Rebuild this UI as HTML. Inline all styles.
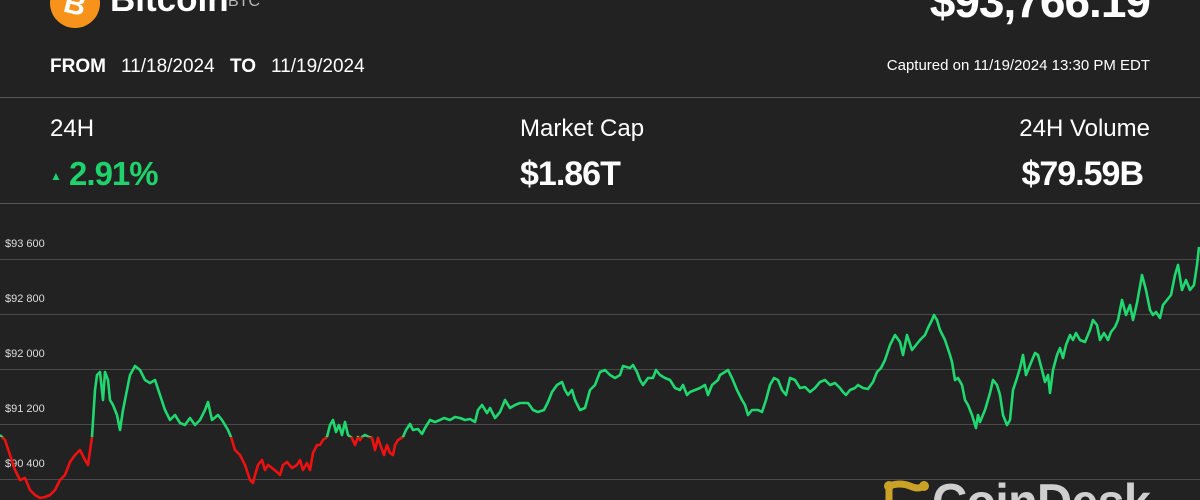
<!DOCTYPE html>
<html><head><meta charset="utf-8"><style>
html,body{margin:0;padding:0;background:#222222;}
body{width:1200px;height:500px;position:relative;overflow:hidden;font-family:"Liberation Sans",sans-serif;color:#fff;}
.t{position:absolute;white-space:nowrap;line-height:1;}
.hl{position:absolute;left:0;width:1200px;height:1px;background:#555;}
</style></head><body>
<div style="position:absolute;left:50px;top:-22px;width:50px;height:50px;border-radius:50%;background:#f7931a;"></div>
<div class="t" style="left:64px;top:-10px;font-size:30px;font-weight:bold;color:#fff;transform:rotate(14deg);">B</div>
<div class="t" style="left:110px;top:-18px;font-size:35px;font-weight:bold;">Bitcoin</div>
<div class="t" style="left:228px;top:-6px;font-size:16px;color:#bbb;">BTC</div>
<div class="t" style="right:50px;top:-22px;font-size:46px;font-weight:bold;letter-spacing:-1px;">$93,766.19</div>
<div class="t" style="left:50px;top:57px;font-size:19px;font-weight:bold;">FROM</div>
<div class="t" style="left:121px;top:57px;font-size:19px;">11/18/2024</div>
<div class="t" style="left:230px;top:57px;font-size:19px;font-weight:bold;">TO</div>
<div class="t" style="left:271px;top:57px;font-size:19px;">11/19/2024</div>
<div class="t" style="right:50px;top:58px;font-size:15px;">Captured on 11/19/2024 13:30 PM EDT</div>
<div class="hl" style="top:97px;"></div>
<div class="t" style="left:50px;top:117px;font-size:24px;">24H</div>
<div class="t" style="left:50px;top:157px;font-size:33px;font-weight:bold;color:#20d26c;letter-spacing:-1px;"><span style="font-size:12px;vertical-align:5px;">&#9650;</span> 2.91%</div>
<div class="t" style="left:520px;top:117px;font-size:24px;">Market Cap</div>
<div class="t" style="left:520px;top:157px;font-size:34px;font-weight:bold;letter-spacing:-1px;">$1.86T</div>
<div class="t" style="right:50px;top:117px;font-size:24px;">24H Volume</div>
<div class="t" style="right:57px;top:157px;font-size:34px;font-weight:bold;letter-spacing:-1px;">$79.59B</div>
<div class="hl" style="top:203px;"></div>
<svg width="1200" height="500" style="position:absolute;left:0;top:0;overflow:hidden;">
<g stroke="#4a4a4a" stroke-width="1">
<line x1="0" y1="259.5" x2="1200" y2="259.5"/><line x1="0" y1="314.5" x2="1200" y2="314.5"/><line x1="0" y1="369.5" x2="1200" y2="369.5"/><line x1="0" y1="424.5" x2="1200" y2="424.5"/><line x1="0" y1="479.5" x2="1200" y2="479.5"/>
</g>
<g font-family="Liberation Sans, sans-serif" font-size="11" fill="#ddd">
<text x="5" y="247">$93 600</text><text x="5" y="302">$92 800</text><text x="5" y="357">$92 000</text><text x="5" y="412">$91 200</text><text x="5" y="467">$90 400</text>
</g>
<defs><clipPath id="up"><rect x="0" y="0" width="1200" height="437"/></clipPath><clipPath id="dn"><rect x="0" y="437" width="1200" height="100"/></clipPath>
<polyline id="p" fill="none" points="0,435 5,440 10,455 15,470 20,480 25,478 30,490 35,495 40,498 45,497 50,495 55,490 60,480 65,475 70,462 75,455 80,450 85,460 88,465 92,437 95,390 97,375 100,372 103,400 105,372 108,380 110,400 113,405 117,415 120,430 123,410 127,390 130,375 135,366 140,370 145,380 150,383 155,380 160,395 165,410 170,420 175,415 180,423 185,425 190,418 195,425 200,420 205,410 208,402 212,420 218,415 222,420 228,430 231,437 235,450 240,455 245,465 250,480 253,483 255,475 258,465 262,460 265,470 268,465 272,468 277,472 280,475 283,465 287,462 292,468 297,465 300,460 303,470 307,463 310,470 313,453 317,445 320,445 323,440 327,437 330,425 333,420 336,432 339,425 342,435 345,422 348,435 352,438 355,445 358,437 360,440 362,437 365,435 369,437 372,438 375,450 378,438 381,447 384,455 387,445 390,453 393,455 395,445 398,440 403,437 406,430 410,424 413,430 418,429 422,434 425,428 430,420 435,422 440,420 444,418 450,420 455,417 460,418 465,420 470,419 475,422 478,410 482,405 487,413 490,408 495,418 500,412 505,400 510,408 515,405 520,403 528,403 533,410 538,412 544,410 548,402 552,392 557,385 562,382 565,390 568,395 572,390 575,400 580,410 585,408 590,390 595,385 600,372 605,370 610,375 615,378 620,375 623,366 630,368 633,365 637,372 640,380 643,385 648,378 653,378 656,370 660,375 665,378 670,380 675,388 680,390 683,385 687,395 690,392 695,390 700,388 705,385 708,395 712,385 718,380 720,375 725,372 728,370 732,378 737,390 742,400 745,405 748,415 752,410 758,410 762,412 766,400 770,385 774,378 778,380 782,390 786,395 790,378 795,380 800,388 805,387 810,392 815,388 820,382 825,380 830,385 835,383 840,388 843,392 846,395 850,390 855,388 858,385 863,388 868,389 873,382 877,372 881,368 885,360 890,345 895,335 900,342 903,355 907,335 912,350 916,345 920,340 925,335 928,328 932,320 934,315 937,320 940,330 945,340 950,355 952,362 955,380 958,378 962,385 965,400 968,405 972,415 976,428 978,415 980,422 985,410 990,393 993,380 997,385 1000,395 1003,415 1007,425 1010,420 1013,390 1017,378 1020,368 1023,355 1026,375 1030,365 1035,353 1038,355 1042,370 1045,382 1048,375 1050,393 1053,370 1057,355 1060,348 1063,358 1066,345 1070,335 1073,340 1076,333 1080,340 1085,342 1090,330 1093,320 1097,325 1100,340 1104,333 1108,340 1111,332 1115,327 1118,320 1122,300 1126,315 1130,305 1133,320 1137,303 1142,275 1146,290 1150,310 1153,315 1156,312 1160,318 1163,305 1167,300 1171,295 1175,275 1178,265 1182,290 1186,280 1190,290 1194,285 1197,265 1199,247"/>
</defs>
<g clip-path="url(#up)" stroke="#20d86f" stroke-width="2.6" fill="none" stroke-linejoin="round"><use href="#p"/></g>
<g clip-path="url(#dn)" stroke="#ee1111" stroke-width="2.6" fill="none" stroke-linejoin="round"><use href="#p"/></g>
<g fill="none" stroke="#c9a227" stroke-width="7" stroke-linecap="round">
<path d="M889,486 L889,500 M889,486 Q900,482 910,486 Q918,490 924,486"/>
</g>
<circle cx="889" cy="486" r="5" fill="#c9a227"/><circle cx="924" cy="486" r="5" fill="#c9a227"/>
<text x="932" y="520" font-family="Liberation Sans, sans-serif" font-size="52" font-weight="bold" fill="#cfcfcf" letter-spacing="-1" textLength="218" lengthAdjust="spacingAndGlyphs">CoinDesk</text>
</svg>
</body></html>
